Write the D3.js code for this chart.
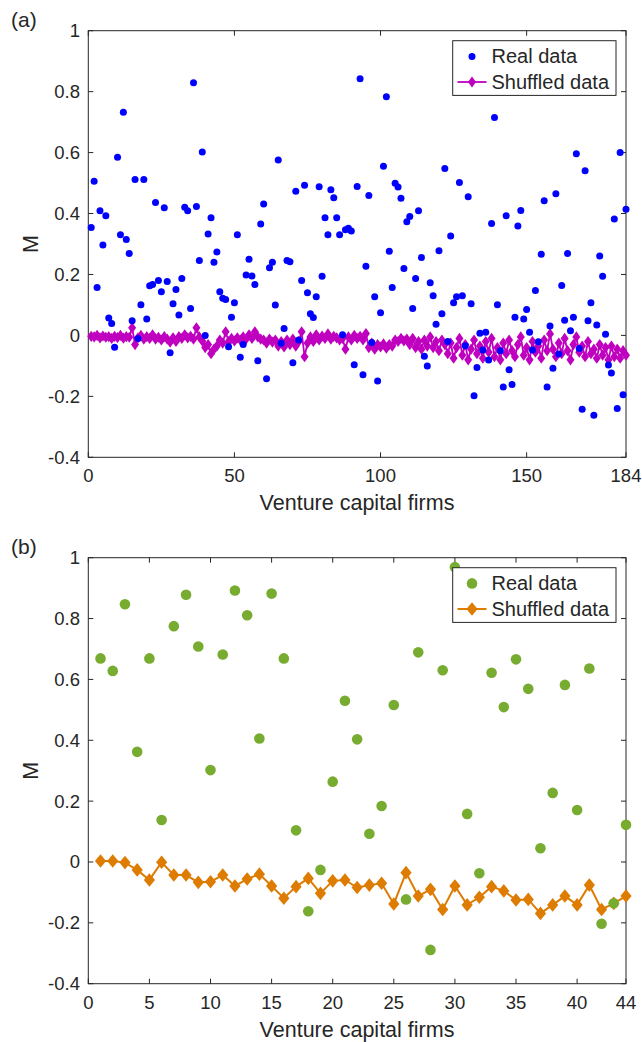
<!DOCTYPE html>
<html><head><meta charset="utf-8">
<script src="https://cdn.jsdelivr.net/npm/d3@7"></script>
<style>
body{margin:0;background:#fff}
svg{display:block}
text{font-family:"Liberation Sans",Arial,Helvetica,sans-serif;fill:#262626}
</style>
</head><body>
<svg id="c" width="642" height="1042"></svg>
<script>
// ---------- Panel (a): 184 venture capital firms ----------
const realA = [
0.354,0.506,0.157,0.409,0.297,0.393,0.057,0.039,-0.039,0.585,
0.330,0.732,0.315,0.269,0.048,0.512,-0.010,0.101,0.512,0.054,
0.163,0.167,0.436,0.180,0.143,0.419,0.177,-0.057,0.104,0.151,
0.067,0.187,0.421,0.409,0.088,0.829,0.423,0.246,0.602,0.000,
0.333,0.386,0.240,0.274,0.143,0.122,0.118,-0.037,0.060,0.107,
0.330,-0.072,-0.030,0.198,0.250,0.195,0.167,-0.083,0.366,0.431,
-0.142,0.222,0.240,0.100,0.576,-0.026,0.023,0.246,0.242,-0.090,
0.473,-0.015,0.180,0.493,0.140,0.071,0.059,0.127,0.488,0.194,
0.386,0.330,0.478,0.452,0.386,0.330,0.002,0.347,0.352,0.343,
-0.096,0.489,0.842,-0.129,0.227,0.459,-0.023,0.127,-0.150,0.074,
0.555,0.783,0.276,0.157,0.499,0.487,0.450,0.220,0.373,0.390,
0.088,0.187,0.409,0.256,-0.068,-0.100,0.173,0.130,0.037,0.278,
0.071,0.548,-0.020,0.326,0.107,0.127,0.502,0.130,-0.034,0.455,
0.104,-0.198,-0.105,0.007,-0.048,0.010,-0.081,0.367,0.715,0.101,
-0.050,-0.169,0.393,-0.113,-0.161,0.060,0.359,0.410,0.054,0.085,
0.010,-0.048,0.147,-0.021,0.266,0.442,-0.169,0.031,-0.108,0.465,
-0.061,0.164,0.050,0.269,0.015,0.060,0.596,-0.043,-0.242,0.540,
0.048,0.107,-0.262,0.034,0.261,0.194,0.004,-0.097,-0.123,0.382,
-0.240,0.600,-0.195,0.414
];
const shuffledA = [
-0.003,-0.005,0.000,-0.008,-0.002,-0.006,-0.004,-0.010,-0.003,-0.007,
0.000,-0.009,-0.004,-0.006,0.025,-0.030,-0.008,0.000,-0.012,-0.004,
-0.010,0.002,-0.012,-0.006,-0.015,-0.004,-0.012,-0.022,-0.008,-0.020,
-0.004,-0.010,0.002,-0.008,-0.003,-0.012,0.025,-0.005,-0.018,-0.040,
-0.030,-0.060,-0.045,-0.035,-0.015,-0.025,0.012,-0.020,-0.010,-0.018,
-0.008,-0.015,-0.005,-0.012,0.002,-0.010,0.012,-0.005,-0.012,-0.015,
-0.025,-0.012,-0.022,-0.015,-0.035,-0.020,-0.038,-0.015,-0.030,-0.012,
-0.035,-0.020,0.012,-0.070,-0.025,-0.005,-0.020,0.002,-0.015,-0.002,
-0.010,0.005,-0.012,-0.003,-0.008,-0.015,-0.010,-0.045,-0.005,-0.015,
0.000,-0.010,-0.003,-0.015,0.006,-0.040,-0.025,-0.045,-0.030,-0.038,
-0.028,-0.042,-0.030,-0.035,-0.015,-0.020,-0.010,-0.018,-0.012,-0.030,
-0.010,-0.040,-0.020,-0.045,-0.015,-0.035,-0.005,-0.040,-0.020,-0.050,
-0.015,-0.030,-0.060,-0.025,-0.075,-0.040,-0.010,-0.065,-0.030,-0.080,
-0.045,-0.015,-0.060,-0.035,-0.075,-0.020,-0.055,-0.010,-0.070,-0.040,
-0.080,-0.025,-0.060,-0.015,-0.050,-0.070,-0.030,-0.005,-0.065,-0.040,
-0.080,-0.020,-0.055,-0.035,-0.075,-0.015,-0.050,0.005,-0.045,-0.070,
-0.025,-0.060,-0.010,-0.050,-0.080,-0.030,-0.005,-0.055,-0.035,-0.070,
-0.020,-0.060,-0.045,-0.075,-0.030,-0.065,-0.040,-0.080,-0.035,-0.070,
-0.045,-0.075,-0.050,-0.065
];
const xTicksA = [0,50,100,150,184];

// ---------- Panel (b): 44 venture capital firms ----------
const realB = [
0.669,0.628,0.847,0.362,0.669,0.138,0.775,0.878,0.708,0.302,
0.682,0.892,0.811,0.406,0.882,0.669,0.104,-0.162,-0.026,0.264,
0.530,0.403,0.093,0.184,0.516,-0.123,0.689,-0.289,0.630,0.969,
0.158,-0.037,0.622,0.509,0.666,0.569,0.045,0.227,0.582,0.171,
0.636,-0.203,-0.136,0.122
];
const shuffledB = [
0.003,0.003,-0.002,-0.026,-0.059,-0.001,-0.043,-0.043,-0.067,-0.065,
-0.043,-0.079,-0.056,-0.040,-0.079,-0.119,-0.081,-0.054,-0.103,-0.062,
-0.059,-0.084,-0.076,-0.070,-0.138,-0.035,-0.112,-0.090,-0.156,-0.079,
-0.141,-0.116,-0.081,-0.095,-0.125,-0.123,-0.169,-0.141,-0.112,-0.141,
-0.076,-0.156,-0.136,-0.112
];
const xTicksB = [0,5,10,15,20,25,30,35,40,44];

const yTicks = [-0.4,-0.2,0,0.2,0.4,0.6,0.8,1];
const legendLabels = ["Real data","Shuffled data"];

const svg = d3.select("#c");
const AX = "#262626";
const fmt = v => (Math.round(v*10)/10).toString();

function diamond(hw, hh){ return `M0,${-hh}L${hw},0L0,${hh}L${-hw},0Z`; }

function panel(o){
  const x = d3.scaleLinear().domain(o.xDomain).range([88.3, 626]);
  const y = d3.scaleLinear().domain([-0.4, 1]).range([o.bottom, o.top]);
  const g = svg.append("g");

  const tl = 5;
  o.xTicks.forEach(t=>{
    g.append("line").attr("x1",x(t)).attr("x2",x(t)).attr("y1",o.bottom).attr("y2",o.bottom-tl).attr("stroke",AX).attr("stroke-width",1);
    g.append("line").attr("x1",x(t)).attr("x2",x(t)).attr("y1",o.top).attr("y2",o.top+tl).attr("stroke",AX).attr("stroke-width",1);
    g.append("text").attr("x",x(t)).attr("y",o.bottom+25).attr("text-anchor","middle").attr("font-size",18.5).text(t);
  });
  yTicks.forEach(t=>{
    g.append("line").attr("x1",88.3).attr("x2",88.3+tl).attr("y1",y(t)).attr("y2",y(t)).attr("stroke",AX).attr("stroke-width",1);
    g.append("line").attr("x1",626).attr("x2",626-tl).attr("y1",y(t)).attr("y2",y(t)).attr("stroke",AX).attr("stroke-width",1);
    g.append("text").attr("x",80).attr("y",y(t)+6.5).attr("text-anchor","end").attr("font-size",18.5).text(fmt(t));
  });
  g.append("rect").attr("x",88.3).attr("y",o.top).attr("width",626-88.3).attr("height",o.bottom-o.top)
    .attr("fill","none").attr("stroke",AX).attr("stroke-width",1);

  const sh = o.shuffled.map((v,i)=>[i+1,v]);
  g.append("path").datum(sh).attr("fill","none").attr("stroke",o.shColor).attr("stroke-width",o.lw)
    .attr("d", d3.line().x(d=>x(d[0])).y(d=>y(d[1])));
  g.selectAll(null).data(sh).enter().append("path")
    .attr("d", diamond(o.dw,o.dh)).attr("fill",o.shColor)
    .attr("transform",d=>`translate(${x(d[0])},${y(d[1])})`);

  g.selectAll(null).data(o.real.map((v,i)=>[i+1,v])).enter().append("circle")
    .attr("cx",d=>x(d[0])).attr("cy",d=>y(d[1])).attr("r",o.r).attr("fill",o.realColor);

  g.append("text").attr("x",357).attr("y",o.bottom+53).attr("text-anchor","middle").attr("font-size",21.5).text("Venture capital firms");
  g.append("text").attr("transform",`translate(38,${(o.top+o.bottom)/2}) rotate(-90)`).attr("text-anchor","middle").attr("font-size",21.5).text("M");
  g.append("text").attr("x",11).attr("y",o.top-4).attr("font-size",21).text(o.tag);

  const lx = 452.7, ly = o.top + 10, lw = 616 - 452.7, lh = 54.7;
  g.append("rect").attr("x",lx).attr("y",ly).attr("width",lw).attr("height",lh).attr("fill","#fff").attr("stroke",AX).attr("stroke-width",1);
  const r1 = ly + 15.7, r2 = ly + 41.3, mx = 472;
  g.append("circle").attr("cx",mx).attr("cy",r1).attr("r",o.r).attr("fill",o.realColor);
  g.append("line").attr("x1",457.5).attr("x2",486.5).attr("y1",r2).attr("y2",r2).attr("stroke",o.shColor).attr("stroke-width",o.lw);
  g.append("path").attr("d",diamond(o.dw,o.dh)).attr("fill",o.shColor).attr("transform",`translate(${mx},${r2})`);
  g.append("text").attr("x",491.5).attr("y",r1+7).attr("font-size",20).text(legendLabels[0]);
  g.append("text").attr("x",491.5).attr("y",r2+7).attr("font-size",20).text(legendLabels[1]);
}

panel({top:30.7,bottom:457.3,xDomain:[0,184],xTicks:xTicksA,real:realA,shuffled:shuffledA,
  realColor:"#0000ff",shColor:"#bf00bf",r:3.5,dw:4,dh:5.6,lw:1.8,tag:"(a)"});
panel({top:557.7,bottom:983.7,xDomain:[0,44],xTicks:xTicksB,real:realB,shuffled:shuffledB,
  realColor:"#77ac30",shColor:"#dd7c00",r:5.3,dw:5.6,dh:6.8,lw:2,tag:"(b)"});
</script>
</body></html>
